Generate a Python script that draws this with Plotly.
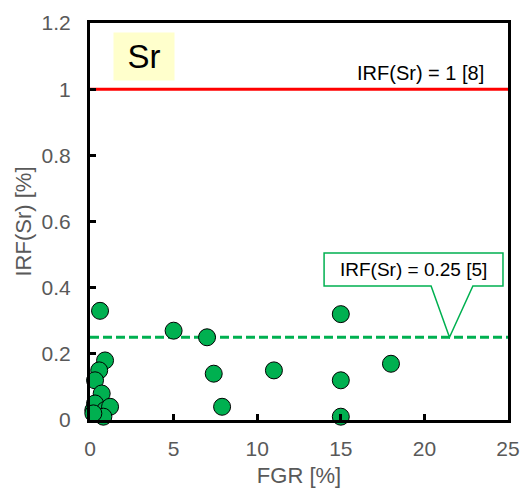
import plotly.graph_objects as go

fgr = [0.6, 0.9, 0.55, 0.3, 0.7, 0.2, 0.3, 0.9, 1.2, 0.8, 0.2,
       5.0, 7.0, 15.0, 7.4, 11.0, 15.0, 18.0, 7.9, 15.0]
irf = [0.33, 0.18, 0.15, 0.12, 0.08, 0.03, 0.05, 0.03, 0.04, 0.01, 0.02,
       0.27, 0.25, 0.32, 0.14, 0.15, 0.12, 0.17, 0.04, 0.01]

irf_ref1 = 1.0
irf_ref2 = 0.25
x_range = [0, 25]
y_range = [0, 1.2]

GREEN = "#00b050"
GRAY = "#595959"
FONT = "Arial, Liberation Sans, sans-serif"

fig = go.Figure()
fig.add_trace(go.Scatter(
    x=x_range, y=[irf_ref1, irf_ref1], mode="lines",
    line=dict(color="#ff0000", width=3), hoverinfo="skip", showlegend=False))
fig.add_trace(go.Scatter(
    x=x_range, y=[irf_ref2, irf_ref2], mode="lines",
    line=dict(color=GREEN, width=3, dash="9px,4px"), hoverinfo="skip", showlegend=False))
fig.add_trace(go.Scatter(
    x=fgr, y=irf, mode="markers", cliponaxis=False,
    marker=dict(size=17, color=GREEN, line=dict(color="black", width=1)),
    showlegend=False))

# callout box
bx0, bx1, by0, by1 = 14.0, 24.7, 0.405, 0.505
px0, px1, tipx = 20.4, 22.9, 21.5
path = (f"M {bx0},{by0} L {bx0},{by1} L {bx1},{by1} L {bx1},{by0} "
        f"L {px1},{by0} L {tipx},{irf_ref2} L {px0},{by0} Z")
fig.add_shape(type="path", path=path, xref="x", yref="y",
              line=dict(color=GREEN, width=1.5), fillcolor="white", layer="above")
fig.add_annotation(x=(bx0 + bx1) / 2, y=(by0 + by1) / 2, xref="x", yref="y",
                   text="IRF(Sr) = 0.25 [5]", showarrow=False,
                   font=dict(size=19, color="black", family=FONT))
fig.add_annotation(x=23.7, y=1.05, xref="x", yref="y", xanchor="right",
                   text="IRF(Sr) = 1 [8]", showarrow=False,
                   font=dict(size=20, color="black", family=FONT))
fig.add_annotation(x=1.4, y=1.098, xref="x", yref="y", xanchor="left",
                   text="Sr", showarrow=False, bgcolor="#ffffcc",
                   borderpad=0, width=60, height=47,
                   font=dict(size=33, color="black", family=FONT))

axis_common = dict(showline=True, linecolor="black", linewidth=3, mirror=True,
                   ticks="inside", ticklen=6, tickwidth=3, tickcolor="black",
                   showgrid=False, zeroline=False, automargin=False,
                   tickfont=dict(size=21, color=GRAY, family=FONT))
fig.update_xaxes(range=x_range, dtick=5, ticklabelstandoff=8,
                 title=dict(text="FGR [%]", font=dict(size=22, color=GRAY, family=FONT), standoff=13),
                 **axis_common)
fig.update_yaxes(range=y_range, dtick=0.2, ticklabelstandoff=12,
                 title=dict(text="IRF(Sr) [%]", font=dict(size=22, color=GRAY, family=FONT), standoff=4),
                 **axis_common)
fig.update_layout(width=527, height=488, plot_bgcolor="white", paper_bgcolor="white",
                  margin=dict(l=90, r=19, t=23, b=68), font=dict(family=FONT))
fig.write_html("out.html")
